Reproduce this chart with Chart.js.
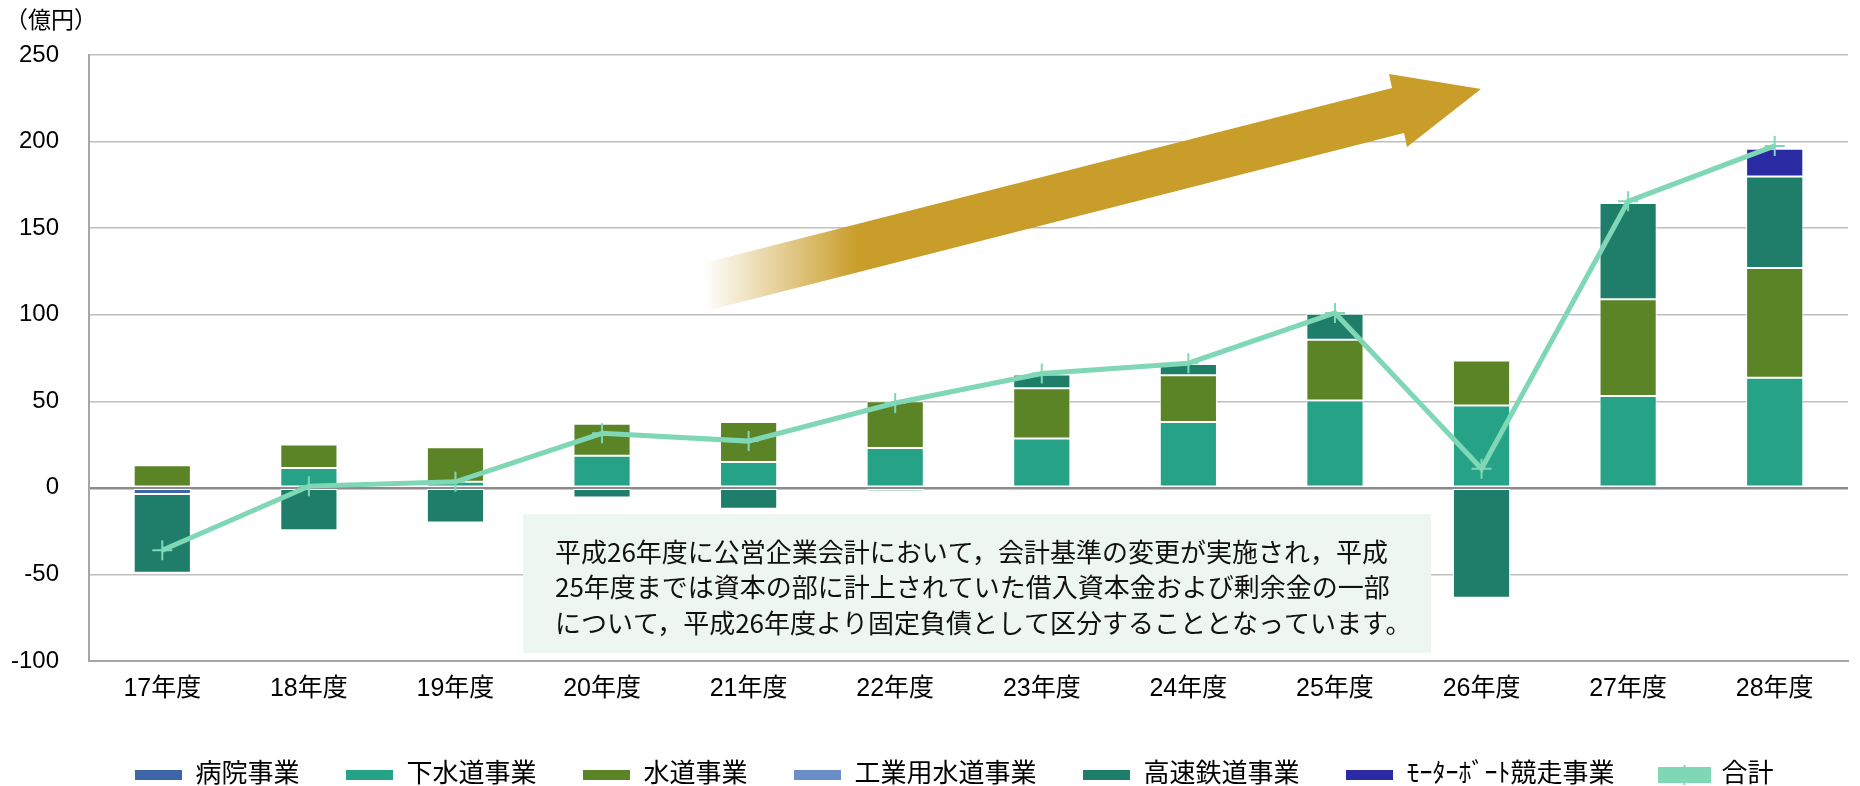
<!DOCTYPE html>
<html lang="ja">
<head>
<meta charset="utf-8">
<title>公営企業 純利益の推移</title>
<script src="https://cdn.jsdelivr.net/npm/chart.js@4.4.1/dist/chart.umd.min.js"></script>
<style>
  html, body { margin: 0; padding: 0; background: #fff; }
  #wrap { width: 1860px; height: 786px; position: relative; }
</style>
</head>
<body>
<div id="wrap"><canvas id="profitChart"></canvas></div>
<script>
// data (億円)
const years = ['17年度', '18年度', '19年度', '20年度', '21年度', '22年度', '23年度', '24年度', '25年度', '26年度', '27年度', '28年度'];
const hospital   = [-3.5, 0, 0, 0, 0, 0, 0, 0, 0, 0, 0, 0];
const sewerage   = [0, 11.5, 3.5, 18.5, 15, 23, 28.5, 38, 50.5, 47.5, 53, 63.6];
const waterworks = [13, 13.5, 20, 18.5, 23, 27, 29, 27, 35, 26, 56, 63.4];
const industrial = [0, 0, 0, 0, 0, 0, 0, 0, 0, 0, 0, 0];
const railway    = [-45.5, -24.5, -20, -5.5, -12, -2, 8, 6.5, 15, -63.5, 55.5, 52.8];
const boatRace   = [0, 0, 0, 0, 0, 0, 0, 0, 0, 0, 0, 16];
const total      = [-36, 1, 3.5, 31.5, 27, 49, 66, 72, 101, 11, 165.5, 197.5];
const yTicks = [-100, -50, 0, 50, 100, 150, 200, 250];

const noteLines = [
    '平成26年度に公営企業会計において，会計基準の変更が実施され，平成',
    '25年度までは資本の部に計上されていた借入資本金および剰余金の一部',
    'について，平成26年度より固定負債として区分することとなっています。'
];

document.addEventListener('DOMContentLoaded', () => {

    if (typeof Chart === 'undefined') {
        console.error("Chart.js failed to load.");
        return;
    }

    const fontFamily = "'Liberation Sans', 'Noto Sans CJK JP', sans-serif";
    const lineColor = '#7FD7B5';
    const gold = '#C99D29';
    Chart.defaults.font.family = fontFamily;
    Chart.defaults.color = '#000';

    const barSet = (label, data, color) => ({
        type: 'bar',
        label: label,
        data: data,
        backgroundColor: color,
        borderColor: '#ffffff',
        borderWidth: 1,
        borderSkipped: false,
        stack: 'jigyo',
        order: 1,
        barPercentage: 0.39,
        categoryPercentage: 1
    });

    // arrow + note box behind the bars, above the grid
    const decorPlugin = {
        id: 'decor',
        afterLayout(chart) {
            // nudge the legend row a little to the right, like the original
            chart.legend.left += 26;
            chart.legend.right += 26;
        },
        beforeDatasetsDraw(chart) {
            const c = chart.ctx;
            c.save();

            // note box
            c.fillStyle = '#EDF6F0';
            c.fillRect(523, 514, 908, 139);
            c.fillStyle = '#111';
            c.font = "26px 'Noto Sans CJK JP', sans-serif";
            c.textBaseline = 'middle';
            noteLines.forEach((t, i) => c.fillText(t, 555, 552 + i * 35.5));

            // big trend arrow
            const grad = c.createLinearGradient(704, 0, 858, 0);
            grad.addColorStop(0, 'rgba(201,157,41,0)');
            grad.addColorStop(1, gold);
            c.fillStyle = grad;
            c.beginPath();
            c.moveTo(704, 263);
            c.lineTo(1392, 88);
            c.lineTo(1389, 74);
            c.lineTo(1481, 89);
            c.lineTo(1407, 147);
            c.lineTo(1404, 133);
            c.lineTo(710, 310);
            c.closePath();
            c.fill();
            c.restore();
        },
        afterDraw(chart) {
            const c = chart.ctx;
            c.save();
            c.fillStyle = '#000';
            c.font = "23px 'Noto Sans CJK JP', sans-serif";
            c.textBaseline = 'middle';
            c.fillText('（億円）', 5, 19);

            // cross marker on the 合計 legend swatch
            const lg = chart.legend;
            const idx = lg.legendItems.findIndex(it => it.text === '合計');
            if (idx >= 0) {
                const hb = lg.legendHitBoxes[idx];
                const cx = hb.left + 24;
                const cy = hb.top + hb.height / 2;
                c.strokeStyle = lineColor;
                c.lineWidth = 2;
                c.beginPath();
                c.moveTo(cx, cy - 10);
                c.lineTo(cx, cy + 10);
                c.stroke();
            }
            c.restore();
        }
    };

    const ctx = document.getElementById('profitChart');

    new Chart(ctx, {
        data: {
            labels: years,
            datasets: [
                barSet('病院事業', hospital, '#3D65A8'),
                barSet('下水道事業', sewerage, '#26A287'),
                barSet('水道事業', waterworks, '#5A8426'),
                barSet('工業用水道事業', industrial, '#6A8EC8'),
                barSet('高速鉄道事業', railway, '#1E7E6A'),
                barSet('ﾓｰﾀｰﾎﾞｰﾄ競走事業', boatRace, '#2A2AA2'),
                {
                    type: 'line',
                    label: '合計',
                    data: total,
                    borderColor: lineColor,
                    backgroundColor: lineColor,
                    borderWidth: 5,
                    tension: 0,
                    pointStyle: 'cross',
                    pointRadius: 10,
                    pointBorderWidth: 2,
                    pointBorderColor: lineColor,
                    stack: 'total',
                    order: 0
                }
            ]
        },
        options: {
            responsive: true,
            maintainAspectRatio: false,
            animation: false,
            layout: {
                padding: { top: 55, right: 4, left: 0, bottom: -12 }
            },
            plugins: {
                legend: {
                    position: 'bottom',
                    labels: {
                        boxWidth: 48,
                        boxHeight: 11,
                        padding: 46,
                        color: '#000',
                        font: { size: 26 },
                        sort: (a, b) => a.datasetIndex - b.datasetIndex
                    }
                },
                tooltip: { enabled: false }
            },
            scales: {
                x: {
                    stacked: true,
                    grid: { display: false },
                    border: { display: true, color: '#a6a6a6', width: 2 },
                    ticks: {
                        font: { size: 25 },
                        color: '#000',
                        padding: 5
                    },
                    afterFit: (axis) => { axis.height = 55; }
                },
                y: {
                    stacked: true,
                    min: yTicks[0],
                    max: yTicks[yTicks.length - 1],
                    afterBuildTicks: (axis) => { axis.ticks = yTicks.map(v => ({ value: v })); },
                    grid: {
                        drawTicks: false,
                        color: (c) => c.tick && c.tick.value === 0 ? '#8c8c8c' : '#bfbfbf',
                        lineWidth: (c) => c.tick && c.tick.value === 0 ? 2.5 : 1.5
                    },
                    border: { display: true, color: '#a6a6a6', width: 2 },
                    ticks: {
                        font: { size: 24 },
                        color: '#000',
                        padding: 30
                    },
                    afterFit: (axis) => { axis.width = 89; }
                }
            }
        },
        plugins: [decorPlugin]
    });
});
</script>
</body>
</html>
